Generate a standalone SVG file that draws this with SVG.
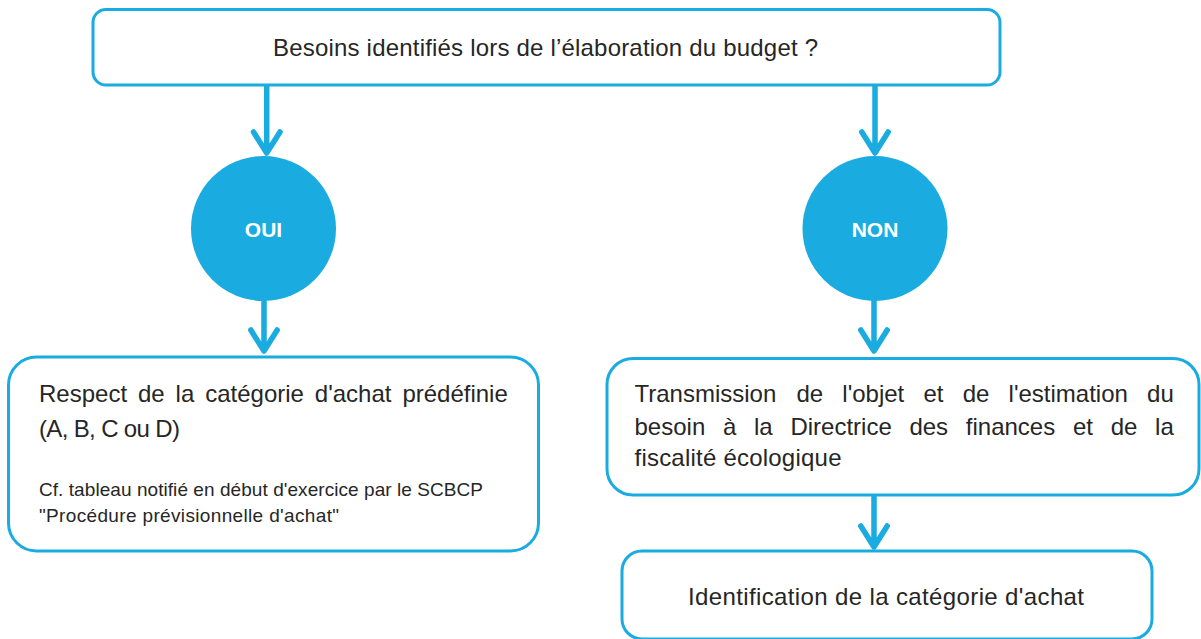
<svg xmlns="http://www.w3.org/2000/svg" width="1201" height="639" viewBox="0 0 1201 639">
<defs>
<style>
.box{fill:#ffffff;stroke:#1aabe0;stroke-width:3}
.circ{fill:#1aabe0}
.t{font-family:"Liberation Sans",Arial,sans-serif;font-size:24px;fill:#262626}
.s{font-family:"Liberation Sans",Arial,sans-serif;font-size:19px;fill:#262626}
.w{font-family:"Liberation Sans",Arial,sans-serif;font-size:21px;font-weight:bold;fill:#ffffff;text-anchor:middle}
.ln{stroke:#1aabe0;stroke-width:5.5;fill:none;stroke-linecap:round;stroke-linejoin:round}
</style>
</defs>
<rect width="1201" height="639" fill="#ffffff"/>
<g id="connectors">
<path class="ln" d="M266.7 86V152 M253.5 132L266.7 153L280 132"/>
<path class="ln" d="M875 86V152 M861.8 132L875 153L888.2 132"/>
<path class="ln" d="M264 302V350 M250.8 330L264 351L277.2 330"/>
<path class="ln" d="M874 301V350 M860.8 330L874 351L887.2 330"/>
<path class="ln" d="M874 496V546 M860.8 526L874 547L887.2 526"/>
</g>
<g id="question">
<rect class="box" x="93" y="9.5" width="907" height="75.5" rx="13"/>
<text class="t" x="273" y="55.5" textLength="545">Besoins identifiés lors de l’élaboration du budget ?</text>
</g>
<g id="oui">
<circle class="circ" cx="263.5" cy="228.5" r="72.5"/>
<text class="w" x="263.5" y="236.5">OUI</text>
</g>
<g id="non">
<circle class="circ" cx="875" cy="228.5" r="72.5"/>
<text class="w" x="875" y="236.5">NON</text>
</g>
<g id="respect">
<rect class="box" x="8.5" y="357" width="530" height="194" rx="28"/>
<text class="t" y="401.5"><tspan x="39">Respect</tspan><tspan x="137.9">de</tspan><tspan x="175.6">la</tspan><tspan x="205.2">catégorie</tspan><tspan x="314.8">d'achat</tspan><tspan x="402.4">prédéfinie</tspan></text>
<text class="t" x="39" y="436.5" textLength="141">(A, B, C ou D)</text>
<text class="s" x="39" y="495.7" textLength="444">Cf. tableau notifié en début d'exercice par le SCBCP</text>
<text class="s" x="39" y="521.7" textLength="300">"Procédure prévisionnelle d'achat"</text>
</g>
<g id="transmission">
<rect class="box" x="607" y="358.5" width="592" height="136.5" rx="26"/>
<text class="t" y="401.5"><tspan x="634.5">Transmission</tspan><tspan x="796.4">de</tspan><tspan x="842.3">l'objet</tspan><tspan x="923.4">et</tspan><tspan x="962.7">de</tspan><tspan x="1008.6">l'estimation</tspan><tspan x="1147.1">du</tspan></text>
<text class="t" y="434.5"><tspan x="634.5">besoin</tspan><tspan x="722.9">à</tspan><tspan x="753.9">la</tspan><tspan x="790.4">Directrice</tspan><tspan x="909.4">des</tspan><tspan x="965.8">finances</tspan><tspan x="1072.9">et</tspan><tspan x="1110.7">de</tspan><tspan x="1155.1">la</tspan></text>
<text class="t" x="634.5" y="466" textLength="207">fiscalité écologique</text>
</g>
<g id="identification">
<rect class="box" x="622" y="551" width="530" height="88" rx="20"/>
<text class="t" x="688" y="605" textLength="396">Identification de la catégorie d'achat</text>
</g>
</svg>
